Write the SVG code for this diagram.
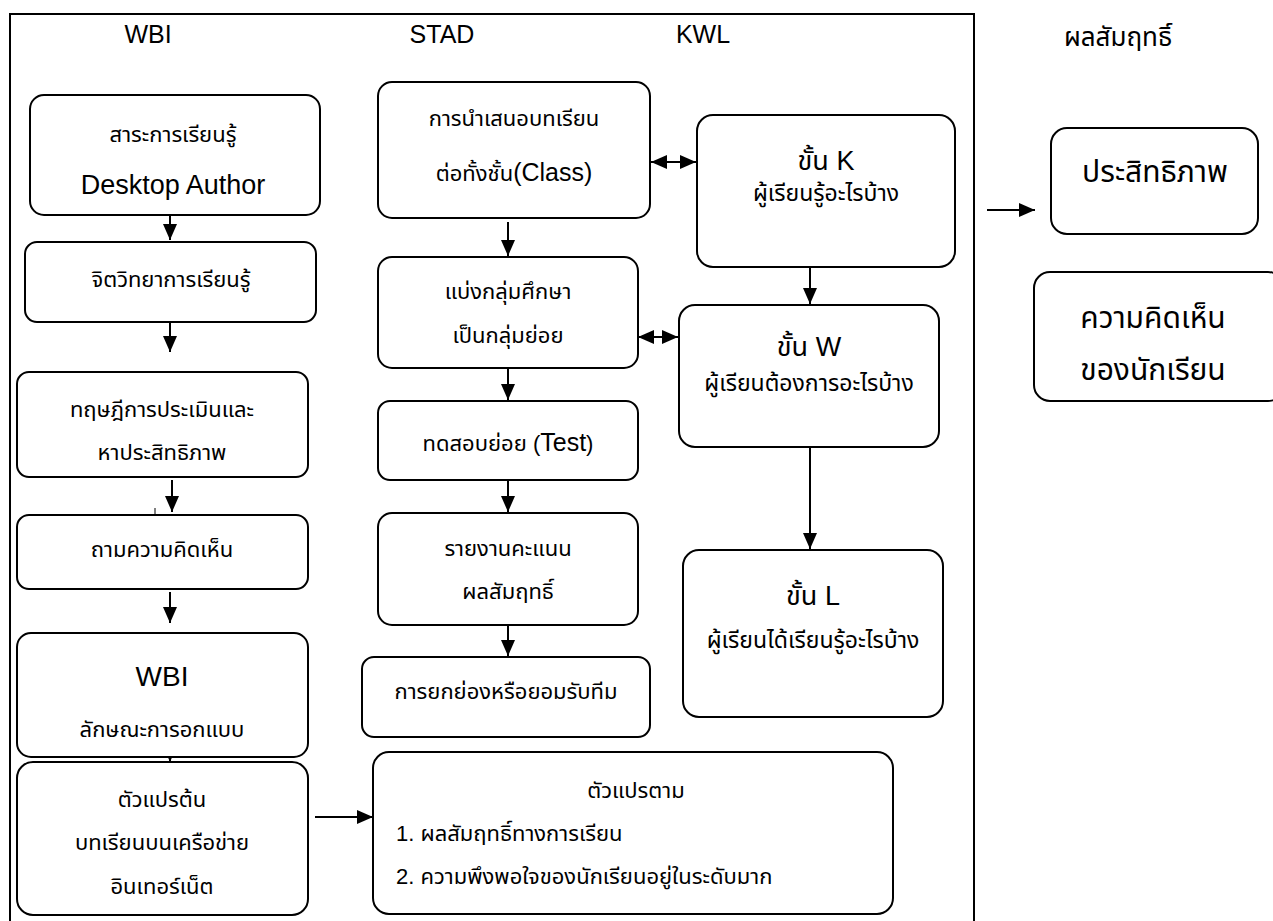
<svg xmlns="http://www.w3.org/2000/svg" width="1273" height="921" viewBox="0 0 1273 921">
<defs>
<marker id="ah" viewBox="0 0 16 14" refX="16" refY="7" markerWidth="16" markerHeight="14" markerUnits="userSpaceOnUse" orient="auto-start-reverse">
<path d="M0,0 L16,7 L0,14 z" fill="#000"/>
</marker>
<style>
.box{fill:#fff;stroke:#000;stroke-width:2}
.t{font-family:"Liberation Sans","Noto Sans Thai","Noto Sans",sans-serif;font-size:22px;fill:#000;text-anchor:middle}
.l{font-family:"Liberation Sans","Noto Sans Thai","Noto Sans",sans-serif;font-size:22px;fill:#000}
.big{font-size:27px}
.h{font-size:25px}
.kwl{font-size:27px}
.sub{font-size:23px}
.r{font-size:30px}
.c{stroke:#000;stroke-width:2;fill:none;marker-end:url(#ah)}
.c2{stroke:#000;stroke-width:2;fill:none;marker-end:url(#ah);marker-start:url(#ah)}
</style>
</defs>
<rect width="1273" height="921" fill="#fff"/>
<path d="M10,921 V14 H974 V921" fill="none" stroke="#000" stroke-width="2"/>
<g id="headers">
<text class="t h" x="148" y="43">WBI</text>
<text class="t h" x="442" y="43">STAD</text>
<text class="t h" x="703" y="43">KWL</text>
<text class="t" x="1118" y="46" style="font-size:26px">ผลสัมฤทธิ์</text>
</g>
<g id="connectors">
<line class="c" x1="170" y1="215" x2="170" y2="240"/>
<line class="c" x1="170" y1="322" x2="170" y2="352"/>
<line class="c" x1="172" y1="480" x2="172" y2="512"/>
<line x1="155" y1="508" x2="155" y2="515" stroke="#000" stroke-width="1"/>
<line class="c" x1="170" y1="592" x2="170" y2="623"/>
<line class="c" x1="170" y1="755" x2="170" y2="762"/>
<line class="c" x1="315" y1="817" x2="373" y2="817"/>
<line class="c" x1="508" y1="222" x2="508" y2="256"/>
<line class="c" x1="508" y1="368" x2="508" y2="400"/>
<line class="c" x1="508" y1="481" x2="508" y2="512"/>
<line class="c" x1="508" y1="626" x2="508" y2="656"/>
<line class="c2" x1="651" y1="162" x2="696" y2="162"/>
<line class="c2" x1="638" y1="337" x2="678" y2="337"/>
<line class="c" x1="810" y1="267" x2="810" y2="304"/>
<line class="c" x1="810" y1="448" x2="810" y2="549"/>
<line class="c" x1="987" y1="210" x2="1035" y2="210"/>
</g>
<g id="n1"><rect class="box" x="30" y="95" width="290" height="120" rx="14"/>
<text class="t" x="173" y="142">สาระการเรียนรู้</text>
<text class="t big" x="173" y="194">Desktop Author</text></g>
<g id="n2"><rect class="box" x="25" y="242" width="291" height="80" rx="12"/>
<text class="t" x="171" y="287">จิตวิทยาการเรียนรู้</text></g>
<g id="n3"><rect class="box" x="17" y="372" width="291" height="105" rx="12"/>
<text class="t" x="162" y="417">ทฤษฎีการประเมินและ</text>
<text class="t" x="162" y="460">หาประสิทธิภาพ</text></g>
<g id="n4"><rect class="box" x="17" y="515" width="291" height="74" rx="12"/>
<text class="t" x="162" y="557">ถามความคิดเห็น</text></g>
<g id="n5"><rect class="box" x="17" y="633" width="291" height="124" rx="14"/>
<text class="t" x="162" y="686" style="font-size:28px">WBI</text>
<text class="t" x="162" y="737">ลักษณะการอกแบบ</text></g>
<g id="n6"><rect class="box" x="17" y="762" width="291" height="153" rx="16"/>
<text class="t" x="162" y="807">ตัวแปรต้น</text>
<text class="t" x="162" y="850">บทเรียนบนเครือข่าย</text>
<text class="t" x="162" y="894">อินเทอร์เน็ต</text></g>
<g id="n7"><rect class="box" x="373" y="752" width="520" height="162" rx="16"/>
<text class="t" x="636" y="798">ตัวแปรตาม</text>
<text class="l" x="396" y="841">1.  ผลสัมฤทธิ์ทางการเรียน</text>
<text class="l" x="396" y="884">2. ความพึงพอใจของนักเรียนอยู่ในระดับมาก</text></g>
<g id="s1"><rect class="box" x="378" y="82" width="272" height="136" rx="14"/>
<text class="t" x="514" y="126">การนำเสนอบทเรียน</text>
<text class="t" x="514" y="181">ต่อทั้งชั้น<tspan style="font-size:25px">(Class)</tspan></text></g>
<g id="s2"><rect class="box" x="378" y="257" width="260" height="111" rx="14"/>
<text class="t" x="508" y="299">แบ่งกลุ่มศึกษา</text>
<text class="t" x="508" y="343">เป็นกลุ่มย่อย</text></g>
<g id="s3"><rect class="box" x="378" y="401" width="260" height="79" rx="12"/>
<text class="t" x="508" y="451">ทดสอบย่อย (<tspan style="font-size:25px">Test</tspan>)</text></g>
<g id="s4"><rect class="box" x="378" y="513" width="260" height="112" rx="14"/>
<text class="t" x="508" y="556">รายงานคะแนน</text>
<text class="t" x="508" y="599">ผลสัมฤทธิ์</text></g>
<g id="s5"><rect class="box" x="362" y="657" width="288" height="80" rx="12"/>
<text class="t" x="506" y="699">การยกย่องหรือยอมรับทีม</text></g>
<g id="k"><rect class="box" x="697" y="115" width="258" height="152" rx="16"/>
<text class="t kwl" x="826" y="170">ขั้น  K</text>
<text class="t sub" x="826" y="201">ผู้เรียนรู้อะไรบ้าง</text></g>
<g id="w"><rect class="box" x="679" y="305" width="260" height="142" rx="16"/>
<text class="t kwl" x="809" y="356">ขั้น  W</text>
<text class="t sub" x="809" y="391">ผู้เรียนต้องการอะไรบ้าง</text></g>
<g id="l"><rect class="box" x="683" y="550" width="260" height="167" rx="16"/>
<text class="t kwl" x="813" y="605">ขั้น  L</text>
<text class="t sub" x="813" y="648">ผู้เรียนได้เรียนรู้อะไรบ้าง</text></g>
<g id="r1"><rect class="box" x="1051" y="128" width="207" height="106" rx="16"/>
<text class="t r" x="1155" y="182">ประสิทธิภาพ</text></g>
<g id="r2"><rect class="box" x="1034" y="272" width="250" height="129" rx="16"/>
<text class="t r" x="1153" y="328">ความคิดเห็น</text>
<text class="t r" x="1153" y="380">ของนักเรียน</text></g>
</svg>
